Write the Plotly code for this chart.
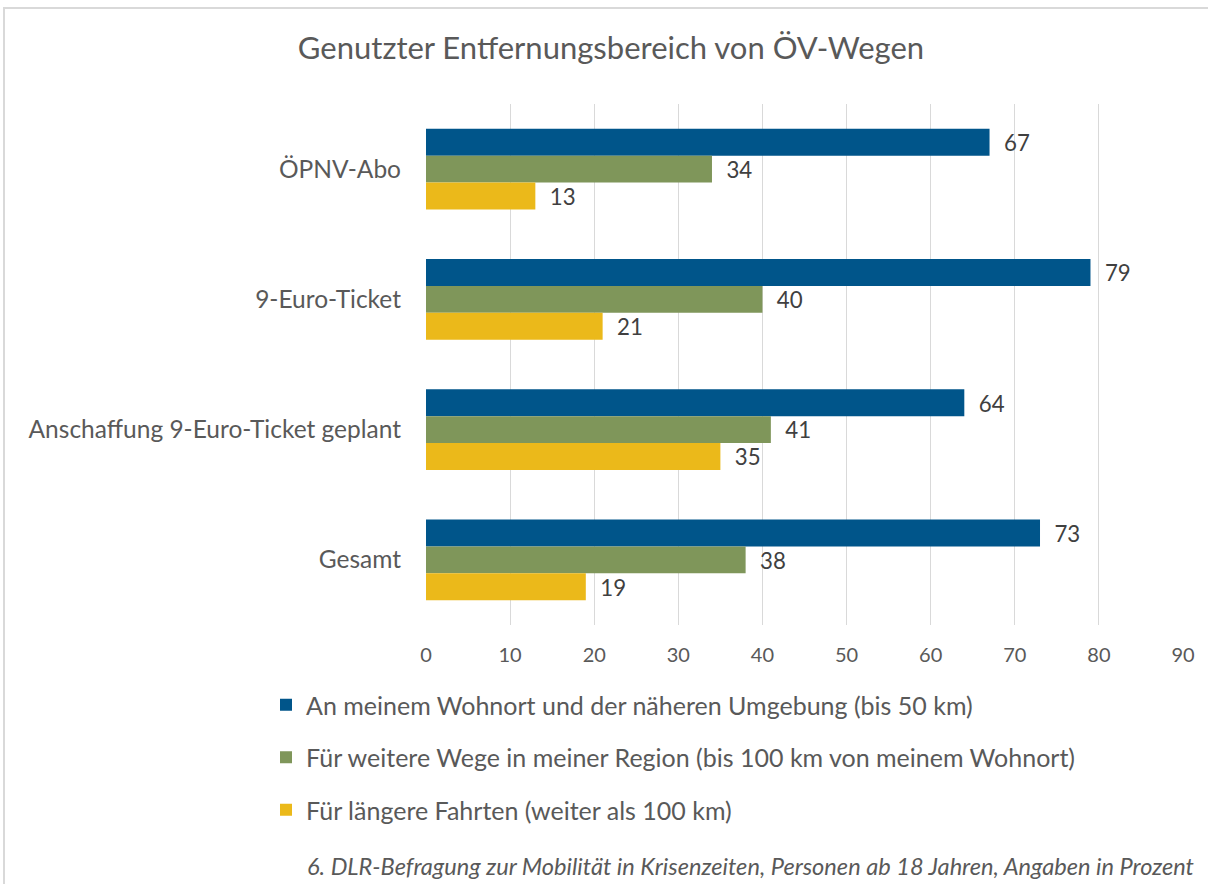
import plotly.graph_objects as go

categories = ["ÖPNV-Abo", "9-Euro-Ticket", "Anschaffung 9-Euro-Ticket geplant", "Gesamt"]
series_names = [
    "An meinem Wohnort und der näheren Umgebung (bis 50 km)",
    "Für weitere Wege in meiner Region (bis 100 km von meinem Wohnort)",
    "Für längere Fahrten (weiter als 100 km)",
]
wohnort = [67, 79, 64, 73]
region = [34, 40, 41, 38]
laenger = [13, 21, 35, 19]
colors = ["#00558A", "#7F965A", "#EBB91A"]
x_ticks = [0, 10, 20, 30, 40, 50, 60, 70, 80, 90]

FONT = "Lato"
fig = go.Figure()
for i, (name, vals) in enumerate(zip(series_names, [wohnort, region, laenger])):
    fig.add_trace(go.Bar(
        y=categories, x=vals, name=name, orientation="h",
        marker=dict(color=colors[i], line=dict(width=0)),
        text=[f"  {v}" for v in vals], textposition="outside",
        textfont=dict(family=FONT, size=24, color="#404040"),
        cliponaxis=False, legendgroup=f"g{i}",
    ))

W, H = 1208, 884
L, R, T, B = 426, 25, 104, 259
pw, ph = W - L - R, H - T - B

def px_to_paper_x(px):
    return (px - L) / pw

def px_to_paper_y(py):
    return (H - B - py) / ph

fig.update_layout(
    width=W, height=H,
    margin=dict(l=L, r=R, t=T, b=B),
    paper_bgcolor="white", plot_bgcolor="white",
    barmode="group", bargap=0.38, bargroupgap=0,
    font=dict(family=FONT, color="#595959"),
    title=dict(text="Genutzter Entfernungsbereich von ÖV-Wegen",
               font=dict(family=FONT, size=31, color="#595959"),
               x=611 / W, xanchor="center", y=1 - 48 / H, yanchor="middle"),
    xaxis=dict(range=[0, 90], tickvals=x_ticks, showgrid=True, gridcolor="#D9D9D9", gridwidth=1,
               zeroline=False, showline=False, ticks="", ticklabelstandoff=16,
               tickfont=dict(family=FONT, size=20, color="#595959")),
    yaxis=dict(autorange="reversed", showgrid=False, showline=False, ticks="",
               ticklabelstandoff=24, tickfont=dict(family=FONT, size=24.5, color="#595959")),
    legend=dict(x=px_to_paper_x(266), xanchor="left", y=px_to_paper_y(682), yanchor="top",
                font=dict(family=FONT, size=25, color="#595959"),
                tracegroupgap=17, itemwidth=30, bgcolor="rgba(0,0,0,0)"),
    showlegend=True,
)

fig.add_annotation(
    text="<i>6. DLR-Befragung zur Mobilität in Krisenzeiten, Personen ab 18 Jahren, Angaben in Prozent</i>",
    xref="paper", yref="paper", x=px_to_paper_x(1196), y=px_to_paper_y(866),
    xanchor="right", yanchor="middle", showarrow=False,
    font=dict(family=FONT, size=23.6, color="#595959"),
)

fig.add_shape(type="rect", xref="paper", yref="paper",
              x0=px_to_paper_x(4), x1=px_to_paper_x(1215),
              y0=px_to_paper_y(900), y1=px_to_paper_y(8),
              line=dict(color="#D9D9D9", width=2), layer="below")

fig.write_html("out.html", config={"displayModeBar": False},
               post_script="document.body.style.margin='0';document.body.style.overflow='hidden';")
